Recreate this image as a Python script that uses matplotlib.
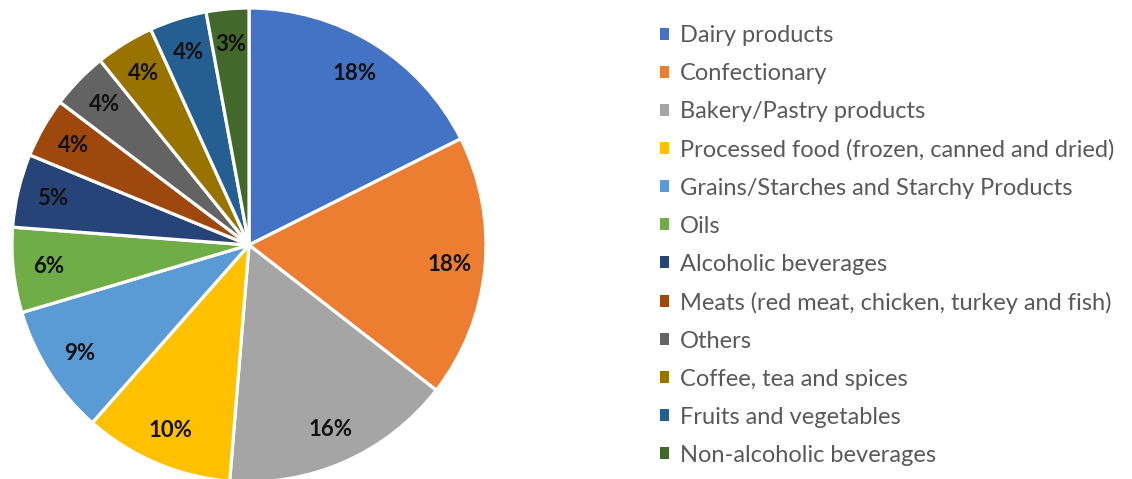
import matplotlib
matplotlib.use("Agg")
import matplotlib.pyplot as plt
from matplotlib.patches import Patch

categories = ["Dairy products", "Confectionary", "Bakery/Pastry products",
              "Processed food (frozen, canned and dried)",
              "Grains/Starches and Starchy Products", "Oils",
              "Alcoholic beverages",
              "Meats (red meat, chicken, turkey and fish)", "Others",
              "Coffee, tea and spices", "Fruits and vegetables",
              "Non-alcoholic beverages"]
values = [17.6, 17.9, 15.8, 10.2, 8.9, 5.8, 5.0, 4.1, 3.9, 4.0, 3.9, 2.9]
value_labels = ["18%", "18%", "16%", "10%", "9%", "6%", "5%", "4%", "4%", "4%", "4%", "3%"]
colors = ["#4472C4", "#ED7D31", "#A5A5A5", "#FFC000", "#5B9BD5", "#70AD47",
          "#264478", "#9E480E", "#636363", "#997300", "#255E91", "#43682B"]

plt.rcParams['font.family'] = ['Lato', 'DejaVu Sans']

W, H = 1132, 479
fig = plt.figure(figsize=(W / 100, H / 100), dpi=100)
fig.patch.set_facecolor("white")

cx, cy, R = 249, 245, 237
ax = fig.add_axes([(cx - R) / W, (H - cy - R) / H, 2 * R / W, 2 * R / H])
wedges, texts = ax.pie(values, colors=colors, startangle=90, counterclock=False,
                       radius=1.0, labels=value_labels, labeldistance=0.85,
                       wedgeprops=dict(edgecolor="white", linewidth=2.3),
                       textprops=dict(fontsize=16, fontweight="bold", color="#111111",
                                      ha="center", va="center"))
for t in texts:
    t.set_ha("center")
    t.set_va("center")
ax.set_xlim(-1, 1)
ax.set_ylim(-1, 1)
ax.set_aspect("equal")
ax.axis("off")

handles = [Patch(facecolor=c, edgecolor="none") for c in colors]
leg = fig.legend(handles, categories, loc="upper left",
                 bbox_to_anchor=(660 / W, 1 - 25 / H), frameon=False,
                 fontsize=17, handlelength=0.40, handleheight=0.40,
                 handletextpad=0.45, labelspacing=0.72, borderaxespad=0,
                 borderpad=0)
for t in leg.get_texts():
    t.set_color("#595959")

fig.savefig("out.png", dpi=100, facecolor="white")
